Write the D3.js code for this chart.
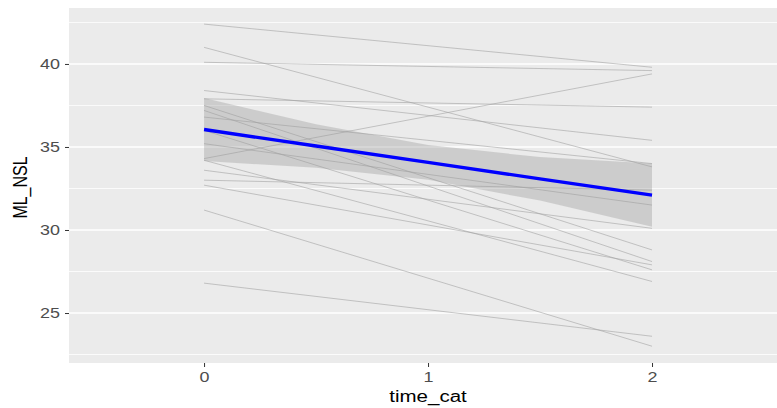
<!DOCTYPE html>
<html>
<head>
<meta charset="utf-8">
<script src="https://cdn.jsdelivr.net/npm/d3@7"></script>
<style>
  html, body { margin: 0; padding: 0; background: #ffffff; }
  svg { display: block; }
</style>
</head>
<body>
<svg id="chart" width="777" height="408"></svg>
<script>
// ---- data ----
const timePoints = [0, 2];
const subjectStart = [42.4, 41.0, 40.1, 38.4, 37.9, 37.5, 37.2, 36.8, 36.0, 35.2, 34.3, 34.2, 33.6, 33.0, 32.7, 31.2, 26.8];
const subjectEnd   = [39.8, 33.8, 39.6, 35.4, 37.4, 28.8, 28.1, 34.0, 27.6, 31.5, 39.4, 26.9, 30.1, 32.4, 27.9, 23.0, 23.6];
const fitX     = [0, 0.5, 1, 1.5, 2];
const fitY     = [36.05, 35.06, 34.07, 33.08, 32.1];
const fitLower = [34.15, 33.75, 33.02, 31.77, 30.2];
const fitUpper = [37.95, 36.37, 35.12, 34.39, 34.0];
const xTicks = [0, 1, 2];
const yTicks = [25, 30, 35, 40];
const yMinor = [22.5, 27.5, 32.5, 37.5, 42.5];

// ---- layout ----
const svg = d3.select("#chart");
const panel = { left: 69, top: 8, right: 777, bottom: 363 };
const stretch = 1.28; // the reference image is horizontally stretched

const x = d3.scaleLinear().domain([-0.603, 2.558]).range([panel.left, panel.right]);
const y = d3.scaleLinear().domain([21.99, 43.37]).range([panel.bottom, panel.top]);

// panel background
svg.append("rect")
  .attr("x", panel.left).attr("y", panel.top)
  .attr("width", panel.right - panel.left).attr("height", panel.bottom - panel.top)
  .attr("fill", "#ebebeb");

// gridlines
svg.append("g").selectAll("line").data(yMinor).join("line")
  .attr("x1", panel.left).attr("x2", panel.right)
  .attr("y1", d => y(d)).attr("y2", d => y(d))
  .attr("stroke", "#ffffff").attr("stroke-width", 0.8);
svg.append("g").selectAll("line").data(yTicks).join("line")
  .attr("x1", panel.left).attr("x2", panel.right)
  .attr("y1", d => y(d)).attr("y2", d => y(d))
  .attr("stroke", "#ffffff").attr("stroke-width", 1.5);

// subject lines
const subjects = subjectStart.map((s, i) => [s, subjectEnd[i]]);
const line = d3.line().x((d, i) => x(timePoints[i])).y(d => y(d));
svg.append("g").selectAll("path").data(subjects).join("path")
  .attr("d", d => line(d))
  .attr("fill", "none")
  .attr("stroke", "#a3a3a3")
  .attr("stroke-width", 0.6);

// confidence ribbon
const ribbon = d3.area()
  .x((d, i) => x(fitX[i]))
  .y0((d, i) => y(fitLower[i]))
  .y1((d, i) => y(fitUpper[i]));
svg.append("path")
  .attr("d", ribbon(fitX))
  .attr("fill", "#9a9a9a")
  .attr("fill-opacity", 0.38);

// fitted line
const fitLine = d3.line().x((d, i) => x(fitX[i])).y((d, i) => y(fitY[i]));
svg.append("path")
  .attr("d", fitLine(fitX))
  .attr("fill", "none")
  .attr("stroke", "#0000ff")
  .attr("stroke-width", 3.4);

// axes
const fontFam = "'Liberation Sans', Arial, sans-serif";
const yAxis = svg.append("g")
  .attr("transform", `translate(${panel.left},0)`)
  .call(d3.axisLeft(y).tickValues(yTicks).tickFormat(d3.format("d")).tickSize(4).tickPadding(5));
const xAxis = svg.append("g")
  .attr("transform", `translate(0,${panel.bottom})`)
  .call(d3.axisBottom(x).tickValues(xTicks).tickFormat(d3.format("d")).tickSize(4).tickPadding(5));
[yAxis, xAxis].forEach(g => {
  g.select(".domain").remove();
  g.selectAll(".tick line").attr("stroke", "#333333").attr("stroke-width", 1);
  g.selectAll(".tick text")
    .attr("fill", "#4d4d4d")
    .style("font-family", fontFam)
    .style("font-size", "14px");
});

function widen(sel) {
  sel.each(function () {
    const w = this.getComputedTextLength();
    d3.select(this).attr("textLength", w * stretch).attr("lengthAdjust", "spacingAndGlyphs");
  });
}
widen(yAxis.selectAll(".tick text"));
widen(xAxis.selectAll(".tick text"));

// axis titles
const xTitle = svg.append("text")
  .attr("x", x(1)).attr("y", 402)
  .attr("text-anchor", "middle")
  .style("font-family", fontFam).style("font-size", "16px")
  .attr("fill", "#000000")
  .text("time_cat");
widen(xTitle);
svg.append("text")
  .attr("transform", `translate(27,${(panel.top + panel.bottom) / 2 + 2}) rotate(-90) scale(1,${stretch})`)
  .attr("text-anchor", "middle")
  .style("font-family", fontFam).style("font-size", "16px")
  .attr("fill", "#000000")
  .text("ML_NSL");
</script>
</body>
</html>
